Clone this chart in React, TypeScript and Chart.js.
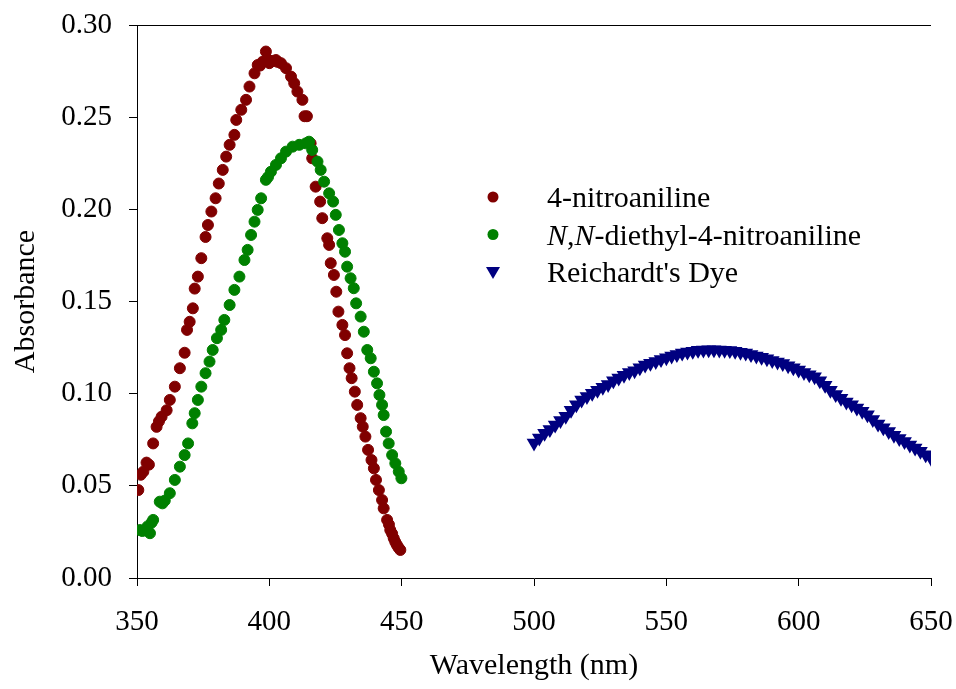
import React, { useEffect, useRef } from 'react';
import { Chart, registerables } from 'chart.js';

Chart.register(...registerables);

const FONT = "'Liberation Serif', 'Times New Roman', Times, serif";

// X axis ticks (nm) and Y axis ticks (absorbance)
const xTickValues = [350, 400, 450, 500, 550, 600, 650];
const yTickValues = [0.0, 0.05, 0.1, 0.15, 0.2, 0.25, 0.3];

const seriesLabels = ['4-nitroaniline', 'N,N-diethyl-4-nitroaniline', "Reichardt's Dye"];
const seriesColors = ['#800000', '#008000', '#000080'];

// 4-nitroaniline
const nitroWl = [
  350.5, 351.4, 352.4, 353.6, 354.5, 356.1, 357.4, 358.3, 359.3, 361.2, 362.4, 364.3, 366.2, 368.0, 368.9, 369.9,
  371.1, 371.8, 373.0, 374.3, 375.9, 376.8, 378.1, 379.7, 380.9, 382.4, 383.7, 385.0, 386.8, 387.5, 389.4, 391.2,
  392.5, 394.4, 395.6, 396.5, 397.5, 398.7, 399.3, 400.0, 401.2, 402.5, 403.1, 404.4, 406.3, 408.2, 409.4, 410.6,
  412.5, 413.3, 414.2, 415.6, 416.2, 417.5, 419.2, 420.0, 421.9, 422.6, 423.2, 424.4, 425.3, 426.1, 427.6, 428.6,
  429.4, 430.3, 431.1, 432.3, 433.2, 434.5, 435.3, 436.3, 437.3, 438.6, 439.5, 440.3, 441.4, 442.6, 443.2, 444.5,
  445.2, 445.7, 446.4, 447.0, 447.6, 448.2, 448.8, 449.5,
];
const nitroAbs = [
  0.0477, 0.0560, 0.0577, 0.0626, 0.0615, 0.0730, 0.0820, 0.0850, 0.0875, 0.0910, 0.0966, 0.1038, 0.1138, 0.1222, 0.1346, 0.1390,
  0.1463, 0.1570, 0.1635, 0.1735, 0.1850, 0.1915, 0.1988, 0.2060, 0.2140, 0.2214, 0.2286, 0.2350, 0.2404, 0.2485, 0.2540, 0.2594,
  0.2666, 0.2738, 0.2783, 0.2780, 0.2801, 0.2856, 0.2815, 0.2793, 0.2805, 0.2810, 0.2800, 0.2793, 0.2766, 0.2720, 0.2684, 0.2639,
  0.2594, 0.2505, 0.2505, 0.2358, 0.2277, 0.2123, 0.2042, 0.1952, 0.1843, 0.1807, 0.1708, 0.1644, 0.1553, 0.1445, 0.1373, 0.1318,
  0.1219, 0.1138, 0.1084, 0.1011, 0.0939, 0.0867, 0.0821, 0.0767, 0.0695, 0.0640, 0.0595, 0.0532, 0.0477, 0.0423, 0.0378, 0.0315,
  0.0290, 0.0260, 0.0240, 0.0215, 0.0195, 0.0179, 0.0165, 0.0152,
];

// N,N-diethyl-4-nitroaniline
const diethylWl = [
  351.1, 352.0, 353.0, 354.0, 354.9, 355.5, 356.1, 358.6, 359.6, 360.5, 362.4, 364.3, 366.2, 368.0, 369.3, 370.9,
  371.8, 373.0, 374.3, 375.9, 377.4, 378.6, 380.2, 381.8, 383.0, 385.0, 386.8, 388.7, 390.6, 391.8, 393.1, 394.4,
  395.6, 396.9, 398.7, 399.5, 400.6, 402.5, 404.4, 406.3, 408.8, 411.3, 413.8, 415.0, 416.2, 418.2, 419.4, 420.7,
  422.6, 424.1, 425.1, 426.3, 427.6, 428.6, 429.4, 430.7, 431.9, 432.8, 434.5, 435.7, 437.0, 438.3, 439.5, 440.7,
  441.6, 442.6, 443.2, 444.1, 445.1, 446.4, 447.6, 448.9, 449.9,
];
const diethylAbs = [
  0.0260, 0.0255, 0.0260, 0.0280, 0.0243, 0.0300, 0.0315, 0.0414, 0.0405, 0.0420, 0.0460, 0.0532, 0.0604, 0.0667, 0.0730, 0.0839,
  0.0894, 0.0966, 0.1038, 0.1111, 0.1174, 0.1237, 0.1301, 0.1346, 0.1400, 0.1481, 0.1563, 0.1635, 0.1725, 0.1780, 0.1861, 0.1933,
  0.1997, 0.2060, 0.2160, 0.2175, 0.2204, 0.2241, 0.2277, 0.2313, 0.2340, 0.2350, 0.2358, 0.2367, 0.2322, 0.2259, 0.2214, 0.2150,
  0.2087, 0.2042, 0.1970, 0.1888, 0.1816, 0.1770, 0.1689, 0.1626, 0.1572, 0.1490, 0.1418, 0.1336, 0.1237, 0.1192, 0.1119, 0.1056,
  0.0993, 0.0939, 0.0884, 0.0794, 0.0730, 0.0667, 0.0622, 0.0577, 0.0541,
];

// Reichardt's Dye
const dyeWl = [
  500, 502, 504, 506, 508, 510, 512, 514, 516, 518, 520, 522, 524, 526, 528, 530, 532, 534, 536, 538,
  540, 542, 544, 546, 548, 550, 552, 554, 556, 558, 560, 562, 564, 566, 568, 570, 572, 574, 576, 578,
  580, 582, 584, 586, 588, 590, 592, 594, 596, 598, 600, 602, 604, 606, 608, 610, 612, 614, 616, 618,
  620, 622, 624, 626, 628, 630, 632, 634, 636, 638, 640, 642, 644, 646, 648, 650,
];
const dyeAbs = [
  0.0733, 0.0760, 0.0785, 0.0805, 0.0830, 0.0855, 0.0878, 0.0910, 0.0940, 0.0965, 0.0985, 0.1002, 0.1018, 0.1035, 0.1050, 0.1070,
  0.1085, 0.1100, 0.1115, 0.1125, 0.1140, 0.1155, 0.1165, 0.1175, 0.1185, 0.1195, 0.1205, 0.1212, 0.1220, 0.1226, 0.1230, 0.1235,
  0.1237, 0.1238, 0.1238, 0.1237, 0.1236, 0.1234, 0.1230, 0.1225, 0.1220, 0.1212, 0.1205, 0.1197, 0.1190, 0.1180, 0.1172, 0.1163,
  0.1152, 0.1140, 0.1128, 0.1115, 0.1103, 0.1092, 0.1070, 0.1045, 0.1018, 0.0995, 0.0975, 0.0955, 0.0940, 0.0922, 0.0905, 0.0885,
  0.0860, 0.0835, 0.0815, 0.0795, 0.0775, 0.0757, 0.0740, 0.0722, 0.0705, 0.0688, 0.0668, 0.0650,
];

const toPoints = (xs: number[], ys: number[]) => xs.map((x, i) => ({ x, y: ys[i] }));

const topBorderPlugin = {
  id: 'topBorder',
  afterDraw(chart: any) {
    const { ctx, chartArea } = chart;
    ctx.save();
    ctx.strokeStyle = '#000';
    ctx.lineWidth = 1;
    ctx.beginPath();
    ctx.moveTo(chartArea.left, Math.round(chartArea.top) + 0.5);
    ctx.lineTo(chartArea.right, Math.round(chartArea.top) + 0.5);
    ctx.stroke();
    ctx.restore();
  },
};

// split label into italic / upright segments (italic for the "N" locants)
const labelSegments = (label: string) => {
  if (label.startsWith('N,N-')) {
    return [
      { t: 'N', i: true },
      { t: ',', i: false },
      { t: 'N', i: true },
      { t: label.slice(3), i: false },
    ];
  }
  return [{ t: label, i: false }];
};

const legendPlugin = {
  id: 'customLegend',
  afterDraw(chart: any) {
    const { ctx } = chart;
    const markerX = 493;
    const textX = 547;
    const baseY = 207;
    const rowGap = 37.5;
    ctx.save();
    chart.data.datasets.forEach((ds: any, i: number) => {
      const baseline = baseY + i * rowGap;
      const cy = baseline - 10;
      ctx.fillStyle = ds.backgroundColor;
      ctx.beginPath();
      if (ds.pointStyle === 'triangle') {
        const w = 7;
        ctx.moveTo(markerX - w, cy - 5);
        ctx.lineTo(markerX + w, cy - 5);
        ctx.lineTo(markerX, cy + 7);
        ctx.closePath();
      } else {
        ctx.arc(markerX, cy, 5.5, 0, Math.PI * 2);
      }
      ctx.fill();
      let x = textX;
      ctx.fillStyle = '#000';
      ctx.textBaseline = 'alphabetic';
      ctx.textAlign = 'left';
      labelSegments(ds.label).forEach((seg) => {
        ctx.font = `${seg.i ? 'italic ' : ''}30px ${FONT}`;
        ctx.fillText(seg.t, x, baseline);
        x += ctx.measureText(seg.t).width;
      });
    });
    ctx.restore();
  },
};

export default function App() {
  const canvasRef = useRef<HTMLCanvasElement | null>(null);

  useEffect(() => {
    const canvas = canvasRef.current;
    if (!canvas) return;
    const chart = new Chart(canvas, {
      type: 'scatter',
      data: {
        datasets: [
          {
            label: seriesLabels[0],
            data: toPoints(nitroWl, nitroAbs),
            backgroundColor: seriesColors[0],
            borderColor: seriesColors[0],
            pointStyle: 'circle',
            pointRadius: 5.5,
            borderWidth: 1,
            order: 2,
          },
          {
            label: seriesLabels[1],
            data: toPoints(diethylWl, diethylAbs),
            backgroundColor: seriesColors[1],
            borderColor: seriesColors[1],
            pointStyle: 'circle',
            pointRadius: 5.5,
            borderWidth: 1,
            order: 1,
          },
          {
            label: seriesLabels[2],
            data: toPoints(dyeWl, dyeAbs),
            backgroundColor: seriesColors[2],
            borderColor: seriesColors[2],
            pointStyle: 'triangle',
            rotation: 180,
            pointRadius: 6,
            borderWidth: 2.5,
            order: 0,
          },
        ],
      },
      options: {
        animation: false,
        responsive: false,
        devicePixelRatio: 1,
        layout: { padding: { top: 25, right: 25, left: 0, bottom: 0 } },
        plugins: {
          legend: { display: false },
          tooltip: { enabled: false },
        },
        scales: {
          x: {
            type: 'linear',
            min: xTickValues[0],
            max: xTickValues[xTickValues.length - 1],
            afterFit: (s: any) => {
              s.height = 111;
              s.paddingLeft = 0;
              s.paddingRight = 0;
            },
            afterBuildTicks: (s: any) => {
              s.ticks = xTickValues.map((v) => ({ value: v }));
            },
            grid: { drawOnChartArea: false, drawTicks: true, tickLength: 8, color: '#000', tickColor: '#000' },
            border: { display: true, color: '#000', width: 1 },
            ticks: {
              color: '#000',
              font: { family: FONT, size: 29 },
              padding: 19,
              maxRotation: 0,
              callback: (v: any) => String(v),
            },
            title: {
              display: true,
              text: 'Wavelength (nm)',
              color: '#000',
              font: { family: FONT, size: 30 },
              padding: { top: 0, bottom: 5 },
            },
          },
          y: {
            type: 'linear',
            min: yTickValues[0],
            max: yTickValues[yTickValues.length - 1],
            afterFit: (s: any) => {
              s.width = 137;
              s.paddingTop = 0;
              s.paddingBottom = 0;
            },
            afterBuildTicks: (s: any) => {
              s.ticks = yTickValues.map((v) => ({ value: v }));
            },
            grid: { drawOnChartArea: false, drawTicks: true, tickLength: 8, color: '#000', tickColor: '#000' },
            border: { display: true, color: '#000', width: 1 },
            ticks: {
              color: '#000',
              font: { family: FONT, size: 29 },
              padding: 17,
              callback: (v: any) => Number(v).toFixed(2),
            },
            title: {
              display: true,
              text: 'Absorbance',
              color: '#000',
              font: { family: FONT, size: 30 },
              padding: { top: 8, bottom: 0 },
            },
          },
        },
      },
      plugins: [topBorderPlugin, legendPlugin],
    } as any);
    return () => chart.destroy();
  }, []);

  return (
    <div style={{ position: 'absolute', left: 0, top: 0, width: 956, height: 689, background: '#fff' }}>
      <canvas ref={canvasRef} width={956} height={689} style={{ display: 'block', width: 956, height: 689 }} />
    </div>
  );
}
